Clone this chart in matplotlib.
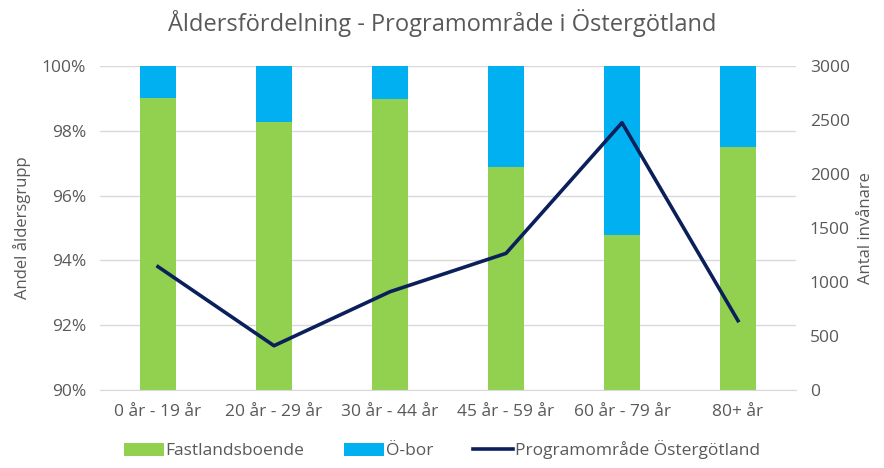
import matplotlib.pyplot as plt
import numpy as np
from matplotlib.ticker import FuncFormatter

plt.rcParams['font.family'] = ['Open Sans', 'DejaVu Sans']

categories = ['0 år - 19 år', '20 år - 29 år', '30 år - 44 år', '45 år - 59 år', '60 år - 79 år', '80+ år']
fastland = [99.02, 98.28, 98.97, 96.89, 94.77, 97.49]
obor = [100 - v for v in fastland]
invanare = [1142, 410, 910, 1265, 2475, 642]

green = '#92D050'
blue = '#00B0F0'
navy = '#0B1F5B'
grey = '#595959'

fig = plt.figure(figsize=(8.84, 4.68), dpi=100)
ax = fig.add_axes([100/884, 1 - 390/468, 696/884, 324/468])
x = np.arange(len(categories))

ax.bar(x, fastland, width=0.31, color=green, label='Fastlandsboende', zorder=2)
ax.bar(x, obor, bottom=fastland, width=0.31, color=blue, label='Ö-bor', zorder=2)
ax.set_ylim(90, 100)
ax.set_xlim(-0.5, len(categories) - 0.5)
ax.set_yticks(np.arange(90, 101, 2))
ax.yaxis.set_major_formatter(FuncFormatter(lambda v, p: f'{v:.0f}%'))
ax.grid(axis='y', color='#D9D9D9', lw=1, zorder=0)
ax.set_xticks(x)
ax.set_xticklabels(categories)
ax.set_ylabel('Andel åldersgrupp', color=grey, fontsize=12, labelpad=8)

ax2 = ax.twinx()
ax2.plot(x, invanare, color=navy, lw=2.6, label='Programområde Östergötland', zorder=3)
ax2.set_ylim(0, 3000)
ax2.set_yticks(np.arange(0, 3001, 500))
ax2.set_ylabel('Antal invånare', color=grey, fontsize=12, labelpad=6)

for a in (ax, ax2):
    for s in a.spines.values():
        s.set_visible(False)
    a.tick_params(length=0, colors=grey, labelsize=12.5, pad=10)
ax.spines['bottom'].set_visible(True)
ax.spines['bottom'].set_color('#D9D9D9')

fig.suptitle('Åldersfördelning - Programområde i Östergötland', x=0.5, y=0.98,
             fontsize=17, color=grey)

h1, l1 = ax.get_legend_handles_labels()
h2, l2 = ax2.get_legend_handles_labels()
fig.legend(h1 + h2, l1 + l2, loc='lower center', bbox_to_anchor=(0.5, -0.015), ncol=3,
           frameon=False, fontsize=12.5, labelcolor=grey, handlelength=2.3,
           handleheight=0.8, columnspacing=2.3, handletextpad=0.1)

fig.savefig('out.png', dpi=100)
